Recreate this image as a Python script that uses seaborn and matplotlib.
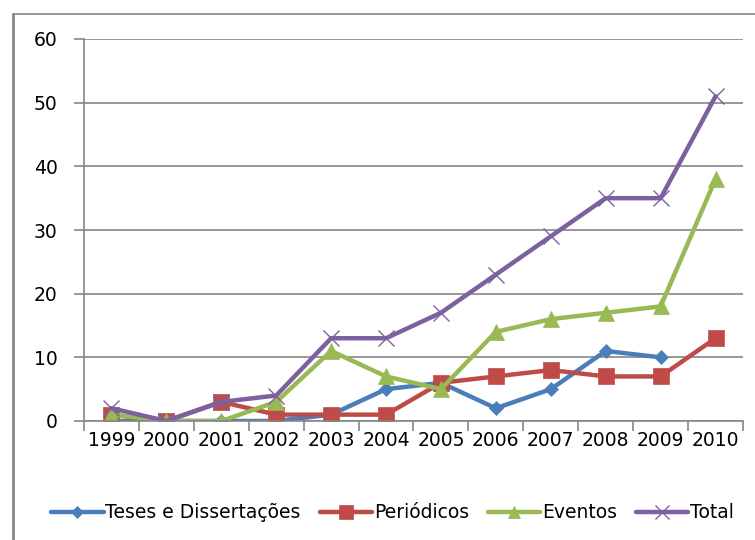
import numpy as np
import pandas as pd
import matplotlib
matplotlib.use("Agg")
import matplotlib.pyplot as plt
import seaborn as sns
from matplotlib.lines import Line2D

# === DATA ===
anos = ["1999", "2000", "2001", "2002", "2003", "2004", "2005",
        "2006", "2007", "2008", "2009", "2010"]
teses = [0, 0, 0, 0, 1, 5, 6, 2, 5, 11, 10, np.nan]
periodicos = [1, 0, 3, 1, 1, 1, 6, 7, 8, 7, 7, 13]
eventos = [1, 0, 0, 3, 11, 7, 5, 14, 16, 17, 18, 38]
total = [2, 0, 3, 4, 13, 13, 17, 23, 29, 35, 35, 51]

series_names = ["Teses e Dissertações", "Periódicos", "Eventos", "Total"]
series_vals = [teses, periodicos, eventos, total]
colors = ["#4a7ebb", "#be4b48", "#98b954", "#7d60a0"]
markers = ["D", "s", "^", "x"]
msizes = [7, 12, 11, 12]

df = pd.DataFrame({"Ano": anos * 4,
                   "Serie": np.repeat(series_names, len(anos)),
                   "Valor": np.concatenate(series_vals)})

sns.set_style("white")
plt.rcParams["font.family"] = ["DejaVu Sans"]
plt.rcParams["text.color"] = "black"
plt.rcParams["xtick.labelcolor"] = "black"
plt.rcParams["ytick.labelcolor"] = "black"

fig = plt.figure(figsize=(7.55, 5.4), dpi=100)
ax = fig.add_axes([84 / 755, 1 - 421 / 540, (743 - 84) / 755, (421 - 39) / 540])

for name, col, mk, ms in zip(series_names, colors, markers, msizes):
    sub = df[df["Serie"] == name].dropna()
    sns.lineplot(data=sub, x="Ano", y="Valor", ax=ax, color=col, linewidth=3.2,
                 marker=mk, markersize=ms, markeredgecolor=col,
                 markeredgewidth=1.0 if mk == "x" else 0.5, sort=False)

ax.set_xlim(-0.5, len(anos) - 0.5)
ax.set_ylim(0, 60)
ax.set_yticks(range(0, 61, 10))
ax.set_xlabel("")
ax.set_ylabel("")
ax.grid(axis="y", color="#868686", linewidth=1.2)
ax.set_axisbelow(True)
for s in ["top", "right"]:
    ax.spines[s].set_visible(False)
for s in ["left", "bottom"]:
    ax.spines[s].set_color("#868686")
    ax.spines[s].set_linewidth(1.2)

# Excel style: x ticks between categories
ax.set_xticks(np.arange(-0.5, len(anos), 1), minor=False)
ax.set_xticklabels([])
ax.set_xticks(np.arange(len(anos)), minor=True)
ax.set_xticklabels(anos, minor=True)
ax.tick_params(axis="x", which="major", length=7, color="#868686", width=1.2, direction="out", bottom=True)
ax.tick_params(axis="x", which="minor", length=0, labelsize=13.5, pad=7, labelcolor="black")
ax.tick_params(axis="y", length=7, color="#868686", width=1.2, direction="out", left=True,
               labelsize=13.5, pad=12, labelcolor="black")

handles = [Line2D([0], [0], color=c, linewidth=3.2, marker=m, markersize=s * 0.85,
                  markeredgecolor=c, markeredgewidth=1.0 if m == "x" else 0.5)
           for c, m, s in zip(colors, markers, msizes)]
fig.legend(handles, series_names, loc="center", bbox_to_anchor=(0.52, 1 - 513 / 540),
           ncol=4, frameon=False, fontsize=13.5, handlelength=2.8, handletextpad=0.1,
           columnspacing=1.0, labelcolor="black")

# Partial chart border (left and top)
fig.add_artist(Line2D([13 / 755, 13 / 755], [0, 1 - 14 / 540], transform=fig.transFigure,
                      color="#868686", linewidth=2))
fig.add_artist(Line2D([13 / 755, 1], [1 - 14 / 540, 1 - 14 / 540], transform=fig.transFigure,
                      color="#868686", linewidth=1.2))

fig.savefig("out.png", dpi=100)
